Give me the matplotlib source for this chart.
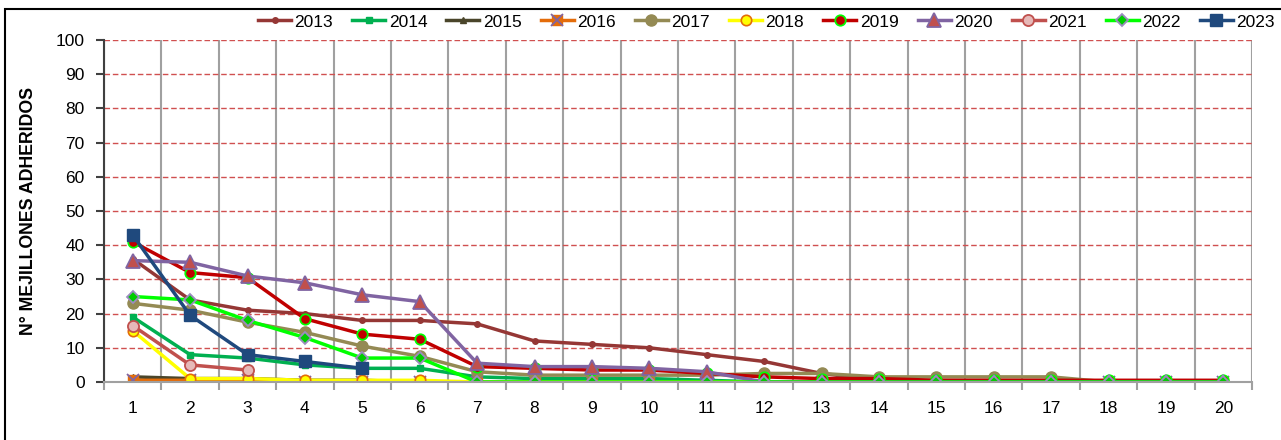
import numpy as np
import matplotlib
matplotlib.use("Agg")
import matplotlib.pyplot as plt
from matplotlib.patches import Rectangle

plt.rcParams['font.family'] = ['Liberation Sans', 'DejaVu Sans']

nan = np.nan
categories = list(range(1, 21))
years = ["2013", "2014", "2015", "2016", "2017", "2018", "2019", "2020", "2021", "2022", "2023"]

s2013 = [36, 24, 21, 20, 18, 18, 17, 12, 11, 10, 8, 6, 2.5, 0.5, 0, 0, 0, 0, 0, 0]
s2014 = [19, 8, 7, 5, 4, 4, 1.5, 1, 1, 1, 0.5, 0, 0, 0, 0, 0, 0, 0, 0, 0]
s2015 = [1.5, 1, 1, 0.5, 0.5, 0, nan, nan, nan, nan, nan, nan, nan, nan, nan, nan, nan, nan, nan, nan]
s2016 = [0.5, 0.5, 0.5, 0, 0, 0, 0, 0, 0, 0, 0, 0, 0, 0, 0, 0, 0, 0, 0, 0]
s2017 = [23, 21, 17.5, 14.5, 10.5, 7.5, 3, 2, 2, 2, 2, 2.5, 2.5, 1.5, 1.5, 1.5, 1.5, 0, 0, 0]
s2018 = [15, 1, 1, 0.5, 0.5, 0.5, 0, 0, 0, 0, 0, 0, 0, 0, 0, 0, 0, 0, 0, 0]
s2019 = [41, 32, 30.5, 18.5, 14, 12.5, 4.5, 4, 3.5, 3.5, 2.5, 1.5, 1, 1, 0.5, 0.5, 0.5, 0.5, 0.5, 0.5]
s2020 = [35.5, 35, 31, 29, 25.5, 23.5, 5.5, 4.5, 4.5, 4, 3, 0, 0, 0, 0, 0, 0, 0, 0, 0]
s2021 = [16.5, 5, 3.5, nan, nan, nan, nan, nan, nan, nan, nan, nan, nan, nan, nan, nan, nan, nan, nan, nan]
s2022 = [25, 24, 18, 13, 7, 7, 0, 0, 0, 0, 0, 0, 0, 0, 0, 0, 0, 0, 0, 0]
s2023 = [43, 19.5, 8, 6, 4, nan, nan, nan, nan, nan, nan, nan, nan, nan, nan, nan, nan, nan, nan, nan]

series = [s2013, s2014, s2015, s2016, s2017, s2018, s2019, s2020, s2021, s2022, s2023]

styles = [
    dict(color='#953735', marker='o', ms=4, mfc='#953735', mec='#953735'),
    dict(color='#00B050', marker='s', ms=4, mfc='#00B050', mec='#00B050'),
    dict(color='#4A452A', marker='^', ms=5, mfc='#4A452A', mec='#4A452A'),
    dict(color='#E46C0A', marker='s', ms=7.5, mfc='#E46C0A', mec='#E46C0A'),
    dict(color='#948A54', marker='o', ms=8, mfc='#948A54', mec='#948A54'),
    dict(color='#FFFF00', marker='o', ms=7.5, mfc='#FFFF00', mec='#E46C0A', mew=1.2),
    dict(color='#C00000', marker='o', ms=7.5, mfc='#C00000', mec='#00FF00', mew=1.3),
    dict(color='#8064A2', marker='^', ms=10, mfc='#C0504D', mec='#8064A2', mew=1.3),
    dict(color='#C0504D', marker='o', ms=8, mfc='#E6B9B8', mec='#C0504D', mew=1.3),
    dict(color='#00FF00', marker='D', ms=6.5, mfc='#00CC00', mec='#9C8CC0', mew=1.3),
    dict(color='#1F497D', marker='s', ms=8.5, mfc='#1F497D', mec='#1F497D'),
]

fig = plt.figure(figsize=(12.81, 4.40), dpi=100)
ax = fig.add_axes([104/1281, 1-382/440, (1252-104)/1281, (382-40)/440])

handles = []
for yr, vals, st in zip(years, series, styles):
    ln, = ax.plot(categories, vals, lw=2.5, label=yr, solid_joinstyle='round', **st)
    if yr == "2016":
        xm, = ax.plot(categories, vals, ls='none', marker='x', ms=8, mec='#8064A2', mew=1.3)
        handles.append((ln, xm))
    else:
        handles.append(ln)

ax.set_xlim(0.5, 20.5)
ax.set_ylim(0, 100)

ax.set_xticks(np.arange(0.5, 21, 1))
ax.set_xticklabels([])
ax.set_xticks(categories, minor=True)
ax.set_xticklabels([str(c) for c in categories], minor=True)
ax.tick_params(axis='x', which='major', length=6, width=1.5, color='#A0A0A0', direction='out')
ax.tick_params(axis='x', which='minor', length=0, pad=14, labelsize=12.5)
ax.set_yticks(np.arange(0, 101, 10))
ax.tick_params(axis='y', length=6, width=1.5, color='#404040', pad=8, labelsize=12.5)

ax.grid(axis='x', which='major', color='#A0A0A0', lw=1.5, ls='-')
ax.grid(axis='y', color='#D05050', lw=1.0, ls=(0, (4, 2)))
ax.set_axisbelow(True)

for sp in ['top', 'right']:
    ax.spines[sp].set_visible(False)
ax.spines['left'].set_color('#404040')
ax.spines['left'].set_linewidth(1.5)
ax.spines['bottom'].set_color('#A0A0A0')
ax.spines['bottom'].set_linewidth(1.5)

ax.set_ylabel('N° MEJILLONES ADHERIDOS', fontsize=12.8, fontweight='bold')
ax.yaxis.set_label_coords(-0.058, 0.5)

fig.legend(handles, years, loc='center', bbox_to_anchor=((263+1270)/2/1281, 1-22/440), ncol=11,
           frameon=False, fontsize=12.5, handlelength=1.9, handletextpad=0.2,
           columnspacing=1.1, borderaxespad=0)

fig.add_artist(Rectangle((5/1281, -0.1), 1.2, 1.1 - 9.5/440, transform=fig.transFigure,
                         fill=False, edgecolor='black', lw=1.5))

fig.savefig('out.png', dpi=100)
